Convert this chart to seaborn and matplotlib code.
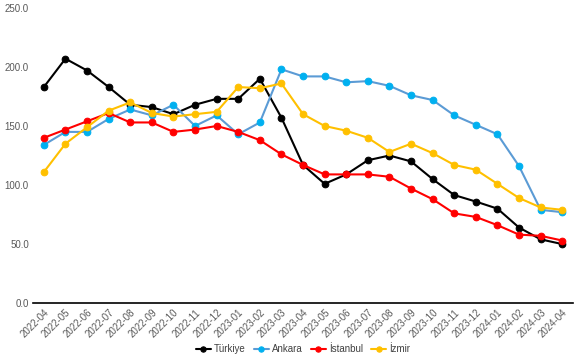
import pandas as pd
import matplotlib.pyplot as plt
import seaborn as sns

# monthly labels
months = ["2022-04", "2022-05", "2022-06", "2022-07", "2022-08", "2022-09",
          "2022-10", "2022-11", "2022-12", "2023-01", "2023-02", "2023-03",
          "2023-04", "2023-05", "2023-06", "2023-07", "2023-08", "2023-09",
          "2023-10", "2023-11", "2023-12", "2024-01", "2024-02", "2024-03",
          "2024-04"]

turkiye = [183, 207, 197, 183, 168, 166, 160, 168, 173, 173, 190, 157,
           117, 101, 109, 121, 125, 120, 105, 91.5, 86, 80, 64, 54, 50]
ankara = [134, 145, 145, 156, 164, 159, 168, 150, 159, 143, 153, 198,
          192, 192, 187, 188, 184, 176, 172, 159, 151, 143, 116, 79, 77]
istanbul = [140, 147, 154, 161, 153, 153, 145, 147, 150, 145, 138, 126,
            117, 109, 109, 109, 107, 97, 88, 76, 73, 66, 58, 57, 53]
izmir = [111, 135, 149, 163, 170, 161, 158, 160, 162, 183, 182, 186,
         160, 150, 146, 140, 128, 135, 127, 117, 113, 101, 89, 81, 79]

series = [
    ("Türkiye", turkiye, "black", "black"),
    ("Ankara", ankara, "#5B9BD5", "#00B0F0"),
    ("İstanbul", istanbul, "#FF0000", "#FF0000"),
    ("İzmir", izmir, "#FFC000", "#FFC000"),
]

sns.set_style("white")
plt.rcParams["font.family"] = ["Liberation Sans", "DejaVu Sans"]

fig = plt.figure(figsize=(5.8, 3.6), dpi=100)
ax = fig.add_axes([0.057, 0.158, 0.931, 0.82])

pos = list(range(len(months)))
for name, vals, lc, mc in series:
    df = pd.DataFrame({"x": pos, "y": vals})
    sns.lineplot(data=df, x="x", y="y", ax=ax, color=lc, linewidth=1.5,
                 marker="o", markersize=4.8, markerfacecolor=mc,
                 markeredgecolor=mc, label=name)

ax.set_xlim(-0.5, len(months) - 0.5)
ax.set_ylim(0, 250)
ax.set_yticks([0, 50, 100, 150, 200, 250])
ax.set_yticklabels([f"{v:.1f}" for v in [0, 50, 100, 150, 200, 250]],
                   fontsize=7, color="#595959")
ax.set_xticks(pos)
ax.set_xticklabels(months, rotation=45, ha="right", rotation_mode="anchor",
                   fontsize=7, color="#595959")
ax.tick_params(axis="both", length=0, pad=3)
ax.set_xlabel("")
ax.set_ylabel("")

for s in ["left", "right", "top"]:
    ax.spines[s].set_visible(False)
ax.spines["bottom"].set_color("black")
ax.spines["bottom"].set_linewidth(1.2)

ax.legend(loc="center", bbox_to_anchor=(0.5, -0.157), ncol=4, frameon=False,
          fontsize=7, handlelength=1.6, handletextpad=0.3, columnspacing=0.8,
          markerscale=0.8, labelcolor="#404040")

fig.savefig("out.png", dpi=100)
